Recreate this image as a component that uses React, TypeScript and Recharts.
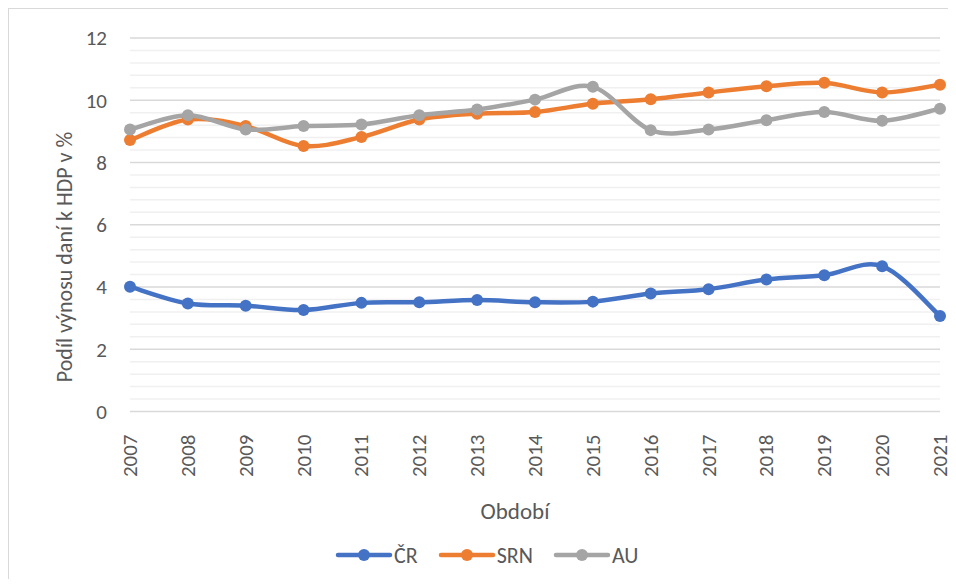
import React from 'react';
import { LineChart, Line, XAxis, YAxis, CartesianGrid, ReferenceLine, Legend } from 'recharts';

const years = ['2007', '2008', '2009', '2010', '2011', '2012', '2013', '2014', '2015', '2016', '2017', '2018', '2019', '2020', '2021'];
const crValues = [4.01, 3.47, 3.4, 3.26, 3.49, 3.51, 3.58, 3.51, 3.53, 3.79, 3.93, 4.24, 4.38, 4.67, 3.07];
const srnValues = [8.72, 9.38, 9.17, 8.53, 8.82, 9.38, 9.57, 9.62, 9.89, 10.03, 10.25, 10.45, 10.56, 10.25, 10.5];
const auValues = [9.06, 9.52, 9.06, 9.17, 9.22, 9.52, 9.7, 10.02, 10.43, 9.04, 9.06, 9.36, 9.62, 9.34, 9.73];
const yTicks = [0, 2, 4, 6, 8, 10, 12];
const minorGrid = [0.4, 0.8, 1.2, 1.6, 2.4, 2.8, 3.2, 3.6, 4.4, 4.8, 5.2, 5.6, 6.4, 6.8, 7.2, 7.6, 8.4, 8.8, 9.2, 9.6, 10.4, 10.8, 11.2, 11.6];

const series = [
  { key: 'cr', name: 'ČR', color: '#4472C4' },
  { key: 'srn', name: 'SRN', color: '#ED7D31' },
  { key: 'au', name: 'AU', color: '#A5A5A5' },
];

const data = years.map((y, i) => ({ year: y, cr: crValues[i], srn: srnValues[i], au: auValues[i] }));

const FONT = 'Carlito, Calibri, Lato, sans-serif';
const TEXT = '#595959';

// Excel-like smoothing (Catmull-Rom converted to cubic Bezier)
const excelSmooth: any = (context: any) => {
  let xs: number[] = [];
  let ys: number[] = [];
  return {
    areaStart() {},
    areaEnd() {},
    lineStart() {
      xs = [];
      ys = [];
    },
    point(x: number, y: number) {
      xs.push(+x);
      ys.push(+y);
    },
    lineEnd() {
      const n = xs.length;
      if (!n) return;
      context.moveTo(xs[0], ys[0]);
      for (let i = 0; i < n - 1; i++) {
        const i0 = Math.max(i - 1, 0);
        const i3 = Math.min(i + 2, n - 1);
        const c1x = xs[i] + (xs[i + 1] - xs[i0]) / 6;
        const c1y = ys[i] + (ys[i + 1] - ys[i0]) / 6;
        const c2x = xs[i + 1] - (xs[i3] - xs[i]) / 6;
        const c2y = ys[i + 1] - (ys[i3] - ys[i]) / 6;
        context.bezierCurveTo(c1x, c1y, c2x, c2y, xs[i + 1], ys[i + 1]);
      }
    },
  };
};

const XTick = (props: any) => {
  const { x, y, payload } = props;
  return (
    <text
      x={x}
      y={y}
      transform={`rotate(-90, ${x}, ${y})`}
      textAnchor="end"
      dominantBaseline="central"
      dx={-15}
      fill={TEXT}
      fontSize={21}
      fontFamily={FONT}
    >
      {payload.value}
    </text>
  );
};

const renderLegend = () => (
  <div
    style={{
      display: 'flex',
      alignItems: 'center',
      height: 40,
      marginLeft: 326,
      fontFamily: FONT,
      fontSize: 22,
      color: TEXT,
    }}
  >
    {series.map((s) => (
      <div key={s.key} style={{ display: 'flex', alignItems: 'center', marginRight: 20 }}>
        <svg width={58} height={16}>
          <line x1={3} y1={8} x2={55} y2={8} stroke={s.color} strokeWidth={4.5} strokeLinecap="round" />
          <circle cx={29} cy={8} r={6} fill={s.color} />
        </svg>
        <span style={{ marginLeft: 1 }}>{s.name}</span>
      </div>
    ))}
  </div>
);

export default function App() {
  return (
    <div style={{ borderLeft: '1px solid #d9d9d9', borderTop: '1px solid #d9d9d9', width: 946, height: 570 }}>
      <LineChart width={945} height={570} data={data} margin={{ top: 29, right: 14, bottom: 4, left: 0 }}>
        {minorGrid.map((v) => (
          <ReferenceLine key={v} y={v} stroke="#f0f0f0" strokeWidth={1.5} />
        ))}
        <CartesianGrid vertical={false} stroke="#d9d9d9" strokeWidth={1.5} />
        <XAxis
          dataKey="year"
          interval={0}
          axisLine={false}
          tickLine={false}
          height={123.5}
          tick={<XTick />}
          label={(p: any) => {
            const vb = p.viewBox;
            return (
              <text
                x={vb.x + vb.width / 2 - 20}
                y={vb.y + vb.height - 16}
                textAnchor="middle"
                fill={TEXT}
                fontSize={23}
                fontFamily={FONT}
              >
                Období
              </text>
            );
          }}
        />
        <YAxis
          width={121}
          domain={[0, 12]}
          ticks={yTicks}
          axisLine={false}
          tickLine={false}
          tickMargin={17}
          tick={{ fill: TEXT, fontSize: 21, fontFamily: FONT }}
          label={() => (
            <text
              x={63}
              y={248}
              transform="rotate(-90, 63, 248)"
              textAnchor="middle"
              fill={TEXT}
              fontSize={22}
              fontFamily={FONT}
            >
              Podíl výnosu daní k HDP v %
            </text>
          )}
        />
        <Legend verticalAlign="bottom" height={40} content={renderLegend} wrapperStyle={{ left: 0, width: 945, bottom: 4 }} />
        {series.map((s) => (
          <Line
            key={s.key}
            dataKey={s.key}
            name={s.name}
            type={excelSmooth}
            stroke={s.color}
            strokeWidth={4.5}
            dot={{ r: 6, fill: s.color, stroke: s.color, strokeWidth: 0 }}
            activeDot={false}
            isAnimationActive={false}
          />
        ))}
      </LineChart>
    </div>
  );
}
